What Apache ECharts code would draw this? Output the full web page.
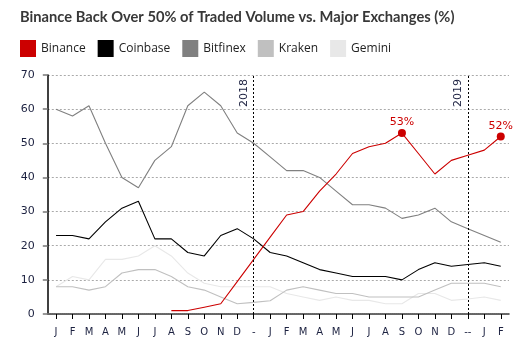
<!DOCTYPE html>
<html>
<head>
<meta charset="utf-8">
<script src="https://cdn.jsdelivr.net/npm/echarts@6/dist/echarts.min.js"></script>
<style>html,body{margin:0;padding:0;background:#fff}#c{width:528px;height:357px}</style>
</head>
<body>
<div id="c"></div>
<script>
var titleText = 'Binance Back Over 50% of Traded Volume vs. Major Exchanges (%)';
var categories = ['J','F','M','A','M','J','J','A','S','O','N','D','-','J','F','M','A','M','J','J','A','S','O','N','D','--','J','F'];
var binance  = [null,null,null,null,null,null,null,1,1,2,3,9.5,16,22.5,29,30,36,41,47,49,50,53,47,41,45,46.5,48,52];
var coinbase = [23,23,22,27,31,33,22,22,18,17,23,25,22,18,17,15,13,12,11,11,11,10,13,15,14,14.5,15,14];
var bitfinex = [60,58,61,50,40,37,45,49,61,65,61,53,50,46,42,42,40,36,32,32,31,28,29,31,27,25,23,21];
var kraken   = [8,8,7,8,12,13,13,11,8,7,5,3,3.4,3.9,7,8,7,6,6,5,5,5,5,7,9,9,9,8];
var gemini   = [8,11,10,16,16,17,20,17,12,9,8,8,8,8,6,5,4,5,4,4,3,3,6,6,4,4.4,5,4];
var labelledPoints = [21, 27];            // Binance points with value labels
var yearMarks = [{cat:'-', year:'2018'}, {cat:'--', year:'2019'}];
var yTicks = {min:0, max:70, interval:10};

var names = ['Binance','Coinbase','Bitfinex','Kraken','Gemini'];
var colors = {Binance:'#cc0000', Coinbase:'#000000', Bitfinex:'#808080', Kraken:'#c0c0c0', Gemini:'#e8e8e8'};
var values = {Binance:binance, Coinbase:coinbase, Bitfinex:bitfinex, Kraken:kraken, Gemini:gemini};

var navy = '#1c2140';
var series = names.slice().reverse().map(function(n){
  var s = {
    name:n, type:'line', symbol:'none', showSymbol:true,
    lineStyle:{color:colors[n], width:1.1}, itemStyle:{color:colors[n]},
    data: values[n].map(function(v){ return v === null ? '-' : v; }),
    animation:false, silent:true
  };
  if (n === 'Binance') {
    s.data = values[n].map(function(v,i){
      if (v === null) return '-';
      if (labelledPoints.indexOf(i) >= 0) {
        return {value:v, symbol:'circle', symbolSize:8,
          label:{show:true, position:'top', distance:1, formatter:'{c}%', color:'#cc0000',
                 fontFamily:'DejaVu Sans', fontSize:11}};
      }
      return v;
    });
    s.markLine = {
      silent:true, symbol:['none','none'], animation:false,
      lineStyle:{color:'#000', type:[2,2], width:1},
      label:{position:'insideEndTop', color:navy, fontFamily:'DejaVu Sans', fontSize:11, distance:4},
      data: yearMarks.map(function(m){ return {xAxis:m.cat, label:{formatter:m.year}}; })
    };
  }
  return s;
});

var chart = echarts.init(document.getElementById('c'), null, {renderer:'canvas'});
chart.setOption({
  animation:false,
  title:{text:titleText, left:20, top:10, padding:0,
    textStyle:{fontFamily:'Lato', fontWeight:'bold', fontSize:14.7, color:'#383838'}},
  legend:{data:names, left:20, top:40, padding:0, icon:'rect', itemWidth:16, itemHeight:17, itemGap:12,
    textStyle:{fontFamily:'Open Sans', fontSize:12, color:'#222'}},
  grid:{left:47.8, right:19, top:75, bottom:43, containLabel:false},
  xAxis:{type:'category', data:categories, boundaryGap:true,
    axisLine:{lineStyle:{color:'#666', width:2, type:[1,1]}},
    axisTick:{show:true, alignWithLabel:true, length:5, lineStyle:{color:'#000', width:1}},
    axisLabel:{interval:0, margin:13, color:navy, fontFamily:'DejaVu Sans', fontSize:10},
    splitLine:{show:false}},
  yAxis:{type:'value', min:yTicks.min, max:yTicks.max, interval:yTicks.interval,
    axisLine:{show:true, lineStyle:{color:'#000', width:1.5}},
    axisTick:{show:true, length:5, lineStyle:{color:'#777', width:1.5}},
    axisLabel:{margin:13, color:navy, fontFamily:'DejaVu Sans', fontSize:11},
    splitLine:{show:true, lineStyle:{color:'#aaa', type:[2,2], width:1}}},
  series:series
});
</script>
</body>
</html>
